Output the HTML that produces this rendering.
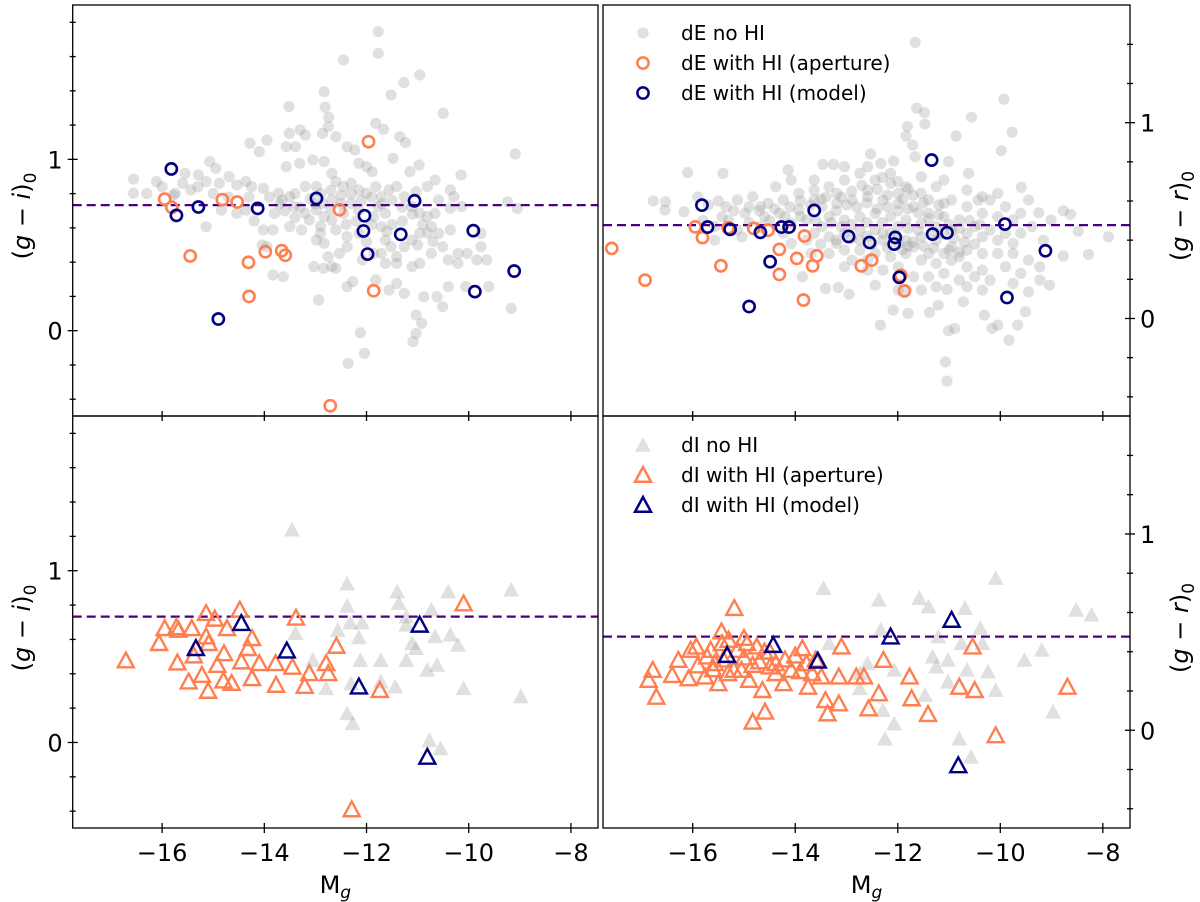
<!DOCTYPE html>
<html><head><meta charset="utf-8"><style>
html,body{margin:0;padding:0;background:#fff;}
svg{display:block;font-family:"DejaVu Sans","Liberation Sans",sans-serif;}
</style></head><body>
<svg id="fig" width="1200" height="902" viewBox="0 0 1200 902" xmlns="http://www.w3.org/2000/svg"></svg>
<script>
// ---------- data ----------
const xTicks = [-16, -14, -12, -10, -8];
const xTickLabels = ["\u221216", "\u221214", "\u221212", "\u221210", "\u22128"];
const yTicksMajor = [0, 1];
const giLimits = [-0.498, 1.901];
const grLimits = [-0.498, 1.601];
const xLimits = [-17.75, -7.47];
const refGI = 0.733;
const refGR = 0.477;

const dEnoHI_gi = [[-16.56,0.885],[-16.56,0.802],[-16.11,0.870],[-15.78,0.792],[-15.55,0.918],[-15.29,0.909],[-15.07,0.987],[-14.95,0.948],[-15.14,0.870],[-14.88,0.860],[-14.69,0.899],[-14.54,0.850],[-14.36,0.870],[-14.25,0.841],[-14.02,0.831],[-14.28,1.094],[-13.95,1.113],[-14.10,1.045],[-13.52,1.308],[-13.51,1.152],[-13.30,1.172],[-13.20,1.142],[-13.57,1.074],[-13.39,1.074],[-13.57,0.957],[-13.31,0.977],[-13.72,0.802],[-13.50,0.782],[-13.20,0.841],[-12.98,0.841],[-12.83,1.395],[-12.81,1.304],[-12.74,1.245],[-12.75,1.191],[-12.86,1.152],[-12.60,1.133],[-12.45,1.580],[-11.77,1.746],[-11.77,1.619],[-10.96,1.493],[-11.27,1.448],[-11.52,1.376],[-10.50,1.269],[-11.82,1.210],[-11.67,1.175],[-11.35,1.133],[-11.24,1.098],[-12.38,1.074],[-12.23,1.055],[-12.15,0.977],[-12.00,0.957],[-11.89,0.928],[-11.48,1.006],[-10.97,0.967],[-11.15,0.928],[-10.66,0.880],[-10.15,0.909],[-10.36,0.821],[-10.29,0.782],[-10.14,0.724],[-9.09,1.031],[-9.24,0.753],[-9.05,0.714],[-13.05,0.996],[-12.83,0.987],[-12.68,0.918],[-12.60,0.870],[-12.45,0.841],[-12.30,0.860],[-12.15,0.821],[-12.00,0.802],[-11.82,0.841],[-11.71,0.782],[-11.56,0.821],[-11.41,0.841],[-11.26,0.782],[-11.11,0.724],[-10.96,0.685],[-10.81,0.666],[-10.66,0.685],[-10.73,0.607],[-10.59,0.568],[-10.96,0.568],[-11.11,0.529],[-11.26,0.490],[-11.41,0.432],[-11.63,0.529],[-11.71,0.607],[-11.86,0.666],[-12.15,0.704],[-12.30,0.743],[-12.45,0.685],[-12.68,0.646],[-12.83,0.666],[-12.98,0.704],[-13.20,0.685],[-13.42,0.724],[-13.65,0.763],[-13.80,0.685],[-14.02,0.588],[-13.83,0.588],[-13.50,0.607],[-13.27,0.588],[-13.12,0.646],[-12.90,0.568],[-12.83,0.510],[-12.60,0.588],[-12.38,0.549],[-12.15,0.568],[-12.38,0.490],[-12.53,0.451],[-12.68,0.374],[-12.98,0.529],[-12.75,0.432],[-13.03,0.374],[-12.84,0.364],[-12.60,0.364],[-13.83,0.325],[-13.63,0.315],[-14.04,0.500],[-13.95,0.490],[-14.54,0.685],[-14.36,0.704],[-14.84,0.704],[-15.14,0.607],[-15.74,0.802],[-15.44,0.821],[-11.63,0.393],[-11.41,0.393],[-11.11,0.374],[-10.96,0.393],[-10.73,0.451],[-10.51,0.490],[-10.36,0.588],[-10.21,0.393],[-10.21,0.451],[-10.03,0.451],[-9.84,0.413],[-9.76,0.490],[-9.76,0.568],[-9.65,0.413],[-10.40,0.413],[-10.40,0.257],[-10.06,0.257],[-9.61,0.257],[-10.51,0.140],[-10.62,0.198],[-10.88,0.198],[-11.26,0.218],[-11.56,0.237],[-11.82,0.296],[-11.41,0.276],[-12.27,0.286],[-12.38,0.257],[-12.94,0.179],[-11.03,0.091],[-10.92,0.043],[-11.03,-0.016],[-11.09,-0.064],[-12.12,-0.012],[-12.04,-0.132],[-12.36,-0.191],[-9.17,0.130],[-10.36,0.714],[-10.59,0.763],[-10.81,0.841],[-11.03,0.811],[-11.78,0.724],[-11.63,0.685],[-12.68,0.763],[-12.86,0.743],[-11.86,0.451],[-12.08,0.413],[-11.71,0.451],[-11.52,0.490],
[-13.9,0.78],[-13.7,0.74],[-13.4,0.80],[-13.1,0.77],[-12.9,0.80],[-12.7,0.82],[-12.5,0.79],[-12.3,0.80],[-12.1,0.76],[-11.9,0.78],[-11.7,0.74],[-11.5,0.76],[-11.3,0.72],[-11.1,0.68],[-10.9,0.62],[-10.8,0.57],[-11.3,0.64],[-11.5,0.62],[-11.9,0.62],[-12.2,0.64],[-12.5,0.74],[-12.7,0.71],[-13.0,0.74],[-13.3,0.72],[-13.6,0.70],[-14.3,0.78],[-14.7,0.78],[-15.0,0.80],[-15.3,0.84],[-15.6,0.86],[-16.0,0.84],[-16.3,0.80],[-12.4,0.62],[-12.0,0.52],[-11.6,0.58],[-11.0,0.50],[-10.7,0.52],[-12.9,0.61],[-13.4,0.66],[-14.2,0.64]];
const dEap_gi = [[-15.95,0.768],[-15.81,0.72],[-14.82,0.765],[-14.53,0.751],[-12.53,0.706],[-11.96,1.103],[-15.45,0.436],[-14.31,0.399],[-13.98,0.461],[-13.66,0.467],[-13.59,0.44],[-14.30,0.2],[-11.86,0.233],[-12.71,-0.438]];
const dEmod_gi = [[-15.82,0.944],[-15.72,0.673],[-15.29,0.722],[-14.13,0.714],[-12.98,0.772],[-12.04,0.671],[-12.06,0.582],[-11.98,0.447],[-11.33,0.562],[-11.06,0.758],[-9.91,0.584],[-9.88,0.228],[-9.11,0.348],[-14.90,0.068]];

const dEnoHI_gr = [[-11.66,1.409],[-9.93,1.120],[-11.63,1.074],[-11.48,1.051],[-10.56,1.028],[-11.81,0.980],[-11.47,0.993],[-9.77,0.951],[-11.84,0.932],[-10.86,0.932],[-11.71,0.886],[-9.98,0.857],[-12.53,0.840],[-11.66,0.826],[-11.01,0.801],[-12.08,0.804],[-12.33,0.792],[-13.46,0.787],[-13.25,0.787],[-16.10,0.745],[-15.41,0.741],[-14.14,0.758],[-10.62,0.741],[-9.59,0.670],[-16.77,0.600],[-16.53,0.596],[-16.54,0.554],[-9.25,0.540],[-8.77,0.550],[-8.63,0.532],[-8.48,0.446],[-7.89,0.417],[-8.28,0.327],[-8.77,0.319],[-13.16,0.158],[-12.95,0.124],[-12.34,-0.034],[-12.09,0.043],[-11.80,0.026],[-11.38,0.031],[-11.01,-0.063],[-10.89,-0.051],[-10.16,-0.051],[-10.05,-0.034],[-9.66,-0.034],[-9.83,-0.111],[-11.07,-0.222],[-11.04,-0.320],[-9.51,0.034],[-10.31,0.017],[-9.04,0.170],[-9.45,0.136],[-9.23,0.196],[-11.04,0.148],[-11.21,0.068],[-10.72,0.085],[-16.17,0.545],[-15.57,0.400],[-15.04,0.417],[-13.86,0.213],[-13.69,0.332],[-13.41,0.153],[-12.44,0.170],[-11.84,0.145],
[-15.35,0.571],[-15.13,0.605],[-14.83,0.622],[-14.53,0.588],[-14.23,0.605],[-13.93,0.639],[-13.63,0.656],[-13.34,0.673],[-13.04,0.707],[-12.74,0.741],[-12.44,0.707],[-12.14,0.690],[-11.84,0.673],[-11.54,0.639],[-11.25,0.673],[-10.95,0.605],[-10.65,0.571],[-10.35,0.537],[-10.05,0.520],[-9.75,0.503],
[-15.43,0.520],[-14.98,0.537],[-14.60,0.520],[-14.31,0.537],[-13.93,0.554],[-13.48,0.571],[-13.19,0.588],[-12.89,0.605],[-12.59,0.622],[-12.29,0.605],[-11.99,0.588],[-11.69,0.571],[-11.40,0.537],[-11.10,0.520],[-10.80,0.503],[-10.50,0.469],[-10.20,0.452],[-9.90,0.435],[-9.60,0.435],
[-15.57,0.469],[-15.13,0.452],[-14.68,0.469],[-14.08,0.486],[-13.78,0.503],[-13.34,0.520],[-13.04,0.503],[-12.74,0.520],[-12.44,0.537],[-12.14,0.520],[-11.84,0.503],[-11.54,0.486],[-11.25,0.469],[-10.95,0.452],[-10.65,0.435],[-10.35,0.417],[-10.05,0.400],[-9.75,0.383],
[-13.63,0.435],[-13.34,0.417],[-13.04,0.435],[-12.74,0.452],[-12.44,0.452],[-12.14,0.435],[-11.84,0.400],[-11.54,0.417],[-11.25,0.400],[-10.95,0.366],[-10.65,0.349],[-10.35,0.332],[-10.05,0.332],
[-13.34,0.332],[-13.04,0.349],[-12.74,0.349],[-12.44,0.332],[-12.14,0.315],[-11.84,0.332],[-11.54,0.298],[-11.25,0.281],[-10.95,0.298],[-10.65,0.264],[-10.35,0.247],[-9.90,0.264],[-9.60,0.230],
[-13.04,0.264],[-12.59,0.247],[-12.29,0.247],[-11.99,0.264],[-11.69,0.213],[-11.40,0.213],[-11.10,0.230],[-10.80,0.196],[-10.50,0.213],[-10.20,0.196],[-9.75,0.179],
[-13.63,0.605],[-13.19,0.639],[-12.59,0.656],[-11.99,0.639],[-11.40,0.605],[-11.10,0.588],[-10.43,0.605],[-10.20,0.605],[-9.60,0.537],[-9.38,0.469],[-9.16,0.400],[-9.01,0.503],
[-12.29,0.435],[-11.99,0.383],[-11.69,0.366],[-11.40,0.332],[-11.10,0.332],[-10.80,0.315],[-12.74,0.400],[-13.19,0.383],[-14.23,0.435],[-14.68,0.571],[-14.38,0.673],[-14.08,0.707],[-13.63,0.707],[-13.04,0.775],[-12.59,0.775],[-12.14,0.741],[-11.54,0.724],[-11.10,0.707],[-10.65,0.656],[-10.35,0.622],[-9.90,0.571],[-10.05,0.639],[-9.45,0.605],[-9.75,0.332],[-9.45,0.298],[-9.23,0.264],[-12.89,0.298],[-12.59,0.298],[-13.48,0.469],[-13.78,0.400],[-14.08,0.383],[-10.35,0.145],[-10.65,0.162],[-11.25,0.162],[-11.54,0.145],[-11.99,0.145],
[-15.9,0.62],[-15.7,0.58],[-15.5,0.60],[-15.2,0.55],[-14.9,0.57],[-14.7,0.55],[-14.4,0.56],[-14.1,0.57],[-13.9,0.60],[-13.7,0.58],[-13.5,0.61],[-13.2,0.55],[-13.0,0.58],[-12.8,0.57],[-12.6,0.59],[-12.4,0.56],[-12.2,0.57],[-12.0,0.55],[-11.8,0.56],[-11.6,0.54],[-11.4,0.51],[-11.2,0.53],[-11.0,0.48],[-10.8,0.46],[-10.6,0.50],[-10.4,0.48],
[-15.8,0.50],[-15.3,0.50],[-14.9,0.49],[-14.5,0.50],[-14.2,0.52],[-13.9,0.52],[-13.6,0.50],[-13.3,0.49],[-13.1,0.47],[-12.9,0.48],[-12.6,0.49],[-12.3,0.49],[-12.0,0.47],[-11.8,0.46],[-11.6,0.45],[-11.3,0.44],[-11.1,0.43],[-10.9,0.41],[-10.7,0.39],[-10.5,0.38],
[-13.5,0.38],[-13.2,0.40],[-12.9,0.41],[-12.6,0.42],[-12.3,0.40],[-12.0,0.41],[-11.8,0.37],[-11.5,0.37],[-11.3,0.36],[-11.0,0.35],[-10.8,0.34],[-12.5,0.38],[-12.2,0.36],[-11.9,0.35],[-11.7,0.39],
[-12.9,0.65],[-12.7,0.68],[-12.4,0.66],[-12.2,0.63],[-11.9,0.61],[-11.7,0.63],[-11.5,0.59],[-11.2,0.58],[-13.1,0.62],[-13.4,0.62],[-12.0,0.70],[-12.3,0.72],[-11.8,0.66]];
const dEap_gr = [[-17.58,0.358],[-16.93,0.196],[-15.95,0.468],[-15.81,0.413],[-15.45,0.269],[-15.31,0.463],[-14.81,0.46],[-14.53,0.451],[-14.31,0.353],[-14.31,0.225],[-13.97,0.307],[-13.82,0.421],[-13.66,0.269],[-13.58,0.32],[-13.84,0.094],[-12.71,0.269],[-12.51,0.298],[-11.94,0.22],[-11.87,0.141]];
const dEmod_gr = [[-15.82,0.579],[-15.71,0.467],[-15.27,0.455],[-14.68,0.44],[-14.27,0.467],[-14.12,0.467],[-13.63,0.552],[-14.49,0.29],[-14.90,0.061],[-12.96,0.419],[-12.55,0.388],[-12.05,0.414],[-12.07,0.38],[-11.97,0.21],[-11.34,0.809],[-11.32,0.431],[-11.04,0.438],[-9.91,0.482],[-9.12,0.346],[-9.87,0.107]];

const dInoHI_gi = [[-13.46,1.239],[-12.38,0.925],[-12.38,0.795],[-12.32,0.698],[-12.09,0.698],[-12.15,0.611],[-12.56,0.654],[-13.39,0.636],[-13.05,0.479],[-12.79,0.315],[-12.38,0.169],[-12.27,0.111],[-12.12,0.479],[-11.72,0.479],[-11.72,0.354],[-11.44,0.325],[-11.40,0.879],[-11.37,0.811],[-11.22,0.733],[-11.22,0.685],[-11.11,0.578],[-11.03,0.549],[-11.22,0.479],[-10.81,0.422],[-10.66,0.617],[-10.62,0.451],[-10.73,0.773],[-10.40,0.879],[-10.36,0.627],[-10.21,0.568],[-10.10,0.315],[-9.17,0.889],[-8.98,0.267],[-10.77,0.012],[-10.55,-0.035],[-12.30,0.344]];
const dIap_gi = [[-16.71,0.477],[-16.06,0.578],[-15.95,0.665],[-15.72,0.671],[-15.68,0.656],[-15.70,0.465],[-15.48,0.354],[-15.42,0.665],[-15.38,0.506],[-15.14,0.753],[-15.14,0.617],[-15.09,0.578],[-15.22,0.393],[-15.10,0.3],[-14.97,0.72],[-14.92,0.451],[-14.79,0.519],[-14.80,0.36],[-14.73,0.665],[-14.64,0.346],[-14.48,0.773],[-14.45,0.471],[-14.32,0.549],[-14.24,0.607],[-14.24,0.374],[-14.10,0.461],[-13.78,0.461],[-13.77,0.335],[-13.45,0.44],[-13.38,0.726],[-13.21,0.329],[-13.12,0.403],[-12.79,0.461],[-12.75,0.403],[-12.59,0.562],[-11.74,0.305],[-10.10,0.809],[-12.29,-0.39]];
const dImod_gi = [[-15.34,0.549],[-14.45,0.695],[-13.56,0.535],[-12.15,0.325],[-10.96,0.685],[-10.81,-0.084]];

const dInoHI_gr = [[-13.45,0.724],[-12.37,0.664],[-11.58,0.673],[-11.40,0.63],[-10.69,0.622],[-10.09,0.775],[-8.52,0.613],[-8.22,0.588],[-10.39,0.52],[-11.21,0.477],[-10.76,0.443],[-10.35,0.443],[-9.19,0.409],[-9.53,0.358],[-10.24,0.298],[-10.09,0.204],[-8.97,0.094],[-10.80,-0.043],[-10.57,-0.136],[-12.25,-0.043],[-12.07,0.034],[-12.29,0.102],[-11.47,0.179],[-11.02,0.247],[-10.65,0.307],[-11.32,0.375],[-11.02,0.358],[-12.59,0.341],[-12.74,0.29],[-12.07,0.307],[-13.34,0.443],[-12.33,0.511],[-11.25,0.324],[-12.74,0.213]];
const dIap_gr = [[-16.78,0.307],[-16.86,0.256],[-16.71,0.17],[-16.40,0.281],[-16.28,0.358],[-16.08,0.264],[-16.04,0.409],[-15.93,0.426],[-15.76,0.273],[-15.65,0.409],[-15.57,0.341],[-15.50,0.239],[-15.44,0.503],[-15.43,0.443],[-15.31,0.29],[-15.19,0.622],[-15.13,0.409],[-15.05,0.307],[-14.94,0.443],[-14.90,0.256],[-14.83,0.332],[-14.75,0.426],[-14.83,0.043],[-14.64,0.204],[-14.59,0.094],[-14.49,0.324],[-14.38,0.29],[-14.23,0.239],[-14.08,0.307],[-13.86,0.417],[-13.75,0.221],[-13.67,0.29],[-13.49,0.273],[-13.41,0.153],[-13.37,0.085],[-13.15,0.136],[-13.15,0.273],[-13.10,0.426],[-12.81,0.273],[-12.66,0.273],[-12.57,0.111],[-12.37,0.187],[-12.28,0.358],[-11.77,0.273],[-11.73,0.162],[-11.41,0.082],[-10.80,0.221],[-10.54,0.426],[-10.50,0.204],[-10.09,-0.026],[-8.69,0.221],[-13.78,0.341],[-14.38,0.341],[-15.72,0.375],[-15.20,0.307],
[-15.9,0.33],[-15.6,0.31],[-15.4,0.36],[-15.0,0.37],[-14.7,0.35],[-14.6,0.40],[-14.2,0.36],[-14.0,0.38],[-13.9,0.30],[-13.6,0.36],[-15.3,0.46],[-15.0,0.47],[-14.5,0.40]];
const dImod_gr = [[-15.33,0.383],[-14.43,0.434],[-13.56,0.354],[-12.14,0.477],[-10.95,0.562],[-10.82,-0.179]];

// ---------- drawing ----------
const NS = "http://www.w3.org/2000/svg";
const svg = document.getElementById("fig");
const ORANGE = "#ff7f50", NAVY = "#000080", DASH = "#4b0082";
function mk(tag, attrs, parent) {
  const e = document.createElementNS(NS, tag);
  for (const k in attrs) e.setAttribute(k, attrs[k]);
  (parent || svg).appendChild(e);
  return e;
}
const cols = [{x0: 72.7, x1: 598}, {x0: 603, x1: 1130}];
const rows = [{y0: 5, y1: 416}, {y0: 416, y1: 828}];
function xScale(c, v) { return c.x0 + (v - xLimits[0]) / (xLimits[1] - xLimits[0]) * (c.x1 - c.x0); }
function yScale(r, lim, v) { return r.y1 - (v - lim[0]) / (lim[1] - lim[0]) * (r.y1 - r.y0); }

function triPts(cx, cy, s) { return `${cx},${cy - s} ${cx - s},${cy + s * 0.85} ${cx + s},${cy + s * 0.85}`; }

function panel(name, c, r, lim, ref, grayPts, apPts, modPts, shape) {
  const g = mk("g", {});
  
  
  const clip = mk("clipPath", {id: "clip-" + name}, g);
  mk("rect", {x: c.x0, y: r.y0, width: c.x1 - c.x0, height: r.y1 - r.y0}, clip);
  const pg = mk("g", {"clip-path": `url(#clip-${name})`}, g);
  
  
  for (const p of grayPts) {
    const cx = xScale(c, p[0]), cy = yScale(r, lim, p[1]);
    let e;
    if (shape === "circle") e = mk("circle", {cx, cy, r: 5.6, fill: "#999", "fill-opacity": 0.3}, pg);
    else e = mk("polygon", {points: triPts(cx, cy, 8), fill: "#999", "fill-opacity": 0.3}, pg);
    
    
  }
  const refY = yScale(r, lim, ref);
  const ln = mk("line", {x1: c.x0, x2: c.x1, y1: refY, y2: refY, stroke: DASH, "stroke-width": 2.2, "stroke-dasharray": "9,5"}, pg);
  
  
  [[apPts, ORANGE, 'aperture-point'], [modPts, NAVY, 'model-point']].forEach(([pts, col, nm]) => {
    for (const p of pts) {
      const cx = xScale(c, p[0]), cy = yScale(r, lim, p[1]);
      let e;
      if (shape === "circle") e = mk("circle", {cx, cy, r: 5.6, fill: "none", stroke: col, "stroke-width": 2.6}, pg);
      else e = mk("polygon", {points: triPts(cx, cy, 8), fill: "none", stroke: col, "stroke-width": 2.4}, pg);
      
      
    }
  });
  const fr = mk("rect", {x: c.x0, y: r.y0, width: c.x1 - c.x0, height: r.y1 - r.y0, fill: "none", stroke: "#000", "stroke-width": 1.3}, g);
  
  
}

panel("panel-de-gi", cols[0], rows[0], giLimits, refGI, dEnoHI_gi, dEap_gi, dEmod_gi, "circle");
panel("panel-de-gr", cols[1], rows[0], grLimits, refGR, dEnoHI_gr, dEap_gr, dEmod_gr, "circle");
panel("panel-di-gi", cols[0], rows[1], giLimits, refGI, dInoHI_gi, dIap_gi, dImod_gi, "tri");
panel("panel-di-gr", cols[1], rows[1], grLimits, refGR, dInoHI_gr, dIap_gr, dImod_gr, "tri");

// ticks
function tick(x1, y1, x2, y2) { mk("line", {x1, y1, x2, y2, stroke: "#000", "stroke-width": 1.3}); }
function txt(x, y, s, size, anchor, name, extra) {
  const t = mk("text", Object.assign({x, y, "font-size": size, "text-anchor": anchor || "middle", fill: "#000"}, extra || {}));
  t.textContent = s;
  
  
  return t;
}
cols.forEach((c, ci) => {
  xTicks.forEach((v, i) => {
    const x = xScale(c, v);
    [rows[0].y1, rows[1].y1].forEach(y => tick(x, y - 5, x, y + 5));
    txt(x, 861, xTickLabels[i], 24, "middle", "x-tick-label");
  });
  const xl = txt((c.x0 + c.x1) / 2, 893, "M", 24, "middle", "x-axis-title");
  const sub = mk("tspan", {"font-style": "italic", "font-size": 17, dy: 5}, xl);
  sub.textContent = "g";
});
rows.forEach((r, ri) => {
  const c0 = cols[0], c1 = cols[1];
  for (let v = -0.4; v <= 1.9; v += 0.2) {
    const vv = Math.round(v * 10) / 10;
    const isMaj = yTicksMajor.includes(vv);
    const y = yScale(r, giLimits, vv);
    if (y < r.y0 + 2 || y > r.y1 - 2) continue;
    tick(c0.x0 - (isMaj ? 5 : 3), y, c0.x0 + (isMaj ? 5 : 3), y);
    if (isMaj) txt(c0.x0 - 10, y + 9, String(vv), 24, "end", "y-tick-label-left");
  }
  for (let v = -0.4; v <= 1.6; v += 0.2) {
    const vv = Math.round(v * 10) / 10;
    const isMaj = yTicksMajor.includes(vv);
    const y = yScale(r, grLimits, vv);
    if (y < r.y0 + 2 || y > r.y1 - 2) continue;
    tick(c1.x1 - (isMaj ? 5 : 3), y, c1.x1 + (isMaj ? 5 : 3), y);
    if (isMaj) txt(c1.x1 + 10, y + 9, String(vv), 24, "start", "y-tick-label-right");
  }
  const cyL = ri === 0 ? 216 : 628;
  const tl = txt(0, 0, "(", 24, "middle", "y-axis-title-gi", {transform: `translate(30,${cyL}) rotate(-90)`});
  tl.innerHTML = '(<tspan font-style="italic">g</tspan> \u2212 <tspan font-style="italic">i</tspan>)<tspan font-size="17" dy="6">0</tspan>';
  const tr = txt(0, 0, "(", 24, "middle", "y-axis-title-gr", {transform: `translate(1188,${cyL}) rotate(-90)`});
  tr.innerHTML = '(<tspan font-style="italic">g</tspan> \u2212 <tspan font-style="italic">r</tspan>)<tspan font-size="17" dy="6">0</tspan>';
});

// legends
function legend(y0, labels, shape, name) {
  const lg = mk("g", {});
  
  
  const styles = [{fill: "#999", "fill-opacity": 0.3}, {fill: "none", stroke: ORANGE, "stroke-width": 2.5}, {fill: "none", stroke: NAVY, "stroke-width": 2.5}];
  labels.forEach((lab, i) => {
    const y = y0 + i * 30;
    let m;
    if (shape === "circle") m = mk("circle", Object.assign({cx: 643, cy: y, r: 5.6}, styles[i]), lg);
    else m = mk("polygon", Object.assign({points: triPts(643, y, 8)}, styles[i]), lg);
    
    
    const t = mk("text", {x: 681, y: y + 7, "font-size": 20, fill: "#000"}, lg);
    t.textContent = lab;
    
    
  });
}
legend(33, ["dE no HI", "dE with HI (aperture)", "dE with HI (model)"], "circle", "legend-de");
legend(445, ["dI no HI", "dI with HI (aperture)", "dI with HI (model)"], "tri", "legend-di");
</script>
</body></html>
